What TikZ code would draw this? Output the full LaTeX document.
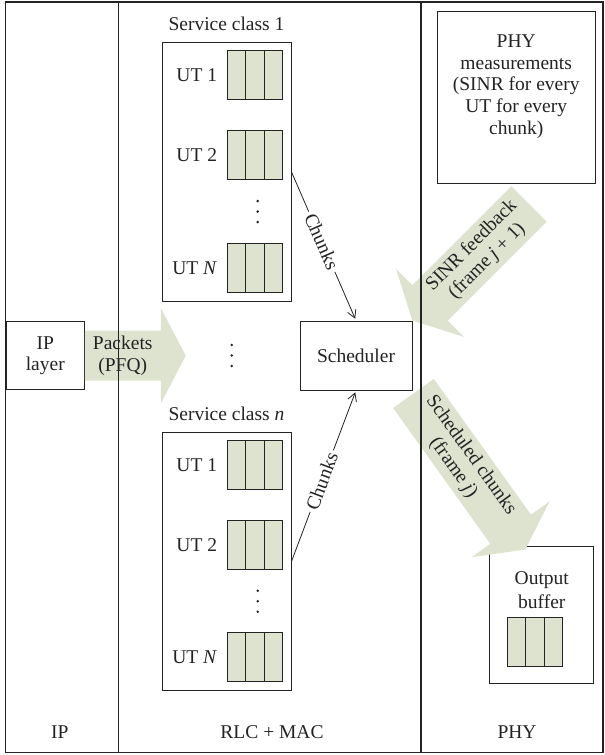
\documentclass[tikz,border=0pt]{standalone}
\usepackage{fontspec}
\setmainfont{Liberation Serif}
\usetikzlibrary{positioning,calc,arrows.meta}
\definecolor{pale}{RGB}{222,227,208}
\definecolor{ink}{RGB}{35,35,35}

\begin{document}
\begin{tikzpicture}[
  x=1pt, y=1pt,
  every node/.style={font=\fontsize{19.5}{21.7}\selectfont, inner sep=0pt, text=ink},
  box/.style={draw=ink, line width=0.9pt, align=center},
  queue/.style={draw=ink, line width=0.9pt, fill=pale, minimum width=55pt, minimum height=49pt},
  chunks/.style={draw=ink, line width=0.8pt, -{Straight Barb[length=8pt,width=9pt]}, shorten >=2pt},
  fattext/.style={},
  pics/fatarrow/.style 2 args={code={
    \fill[pale] (0,-25) -- (#1,-25) -- (#1,-48) -- (#1+25,0) -- (#1,48) -- (#1,25) -- (0,25) -- cycle;
    \node[transform shape, align=center, fattext] at (#1/2,0) {#2};
  }},
]
\useasboundingbox (0,0) rectangle (605,755);

\foreach \cls/\ypos/\num in {1/583.15/1, 2/193.5/\textit{n}} {
  \node[box, minimum width=129pt, minimum height=258.3pt] (sc\cls) at (226.5,\ypos) {};
  \node[above=11.5pt of sc\cls] (title\cls) {Service class \num};
  \node[queue, anchor=north east] (q\cls1) at ([shift={(-8.3,-8)}]sc\cls.north east) {};
  \node[queue, below=30.3pt of q\cls1] (q\cls2) {};
  \node[queue, anchor=south east] (q\cls3) at ([shift={(-8.3,8.7)}]sc\cls.south east) {};
  \node[left=10pt of q\cls1] (ut\cls1) {UT 1};
  \node[left=10pt of q\cls2] (ut\cls2) {UT 2};
  \node[left=10pt of q\cls3] (ut\cls3) {UT \textit{N}};
  \coordinate (dots\cls) at ($(q\cls2.south)!0.5!(q\cls3.north)+(2.5,0)$);
}

\node[box, minimum width=112pt, minimum height=69pt] (sched) at (356,399.5) {Scheduler};
\node[box, minimum width=78pt, minimum height=68pt] (iplayer) at (45.3,399.3) {IP\\layer};
\node[box, minimum width=157.7pt, minimum height=172.3pt] (phy) at (516.2,657.85) {};
\node[align=center] (phytext) at ([yshift=10.6pt]phy.center) {PHY\\measurements\\(SINR for every\\UT for every\\chunk)};
\node[box, minimum width=104pt, minimum height=137.3pt] (outbuf) at (541,140.35) {};
\node[align=center] (outtext) at (541.8,164.65) {Output\\[2.5pt]buffer};
\node[queue] (qbuf) at (535,113.35) {};
\coordinate (middots) at (231.7,399.5);

\foreach \q in {q11,q12,q13,q21,q22,q23,qbuf}
  \foreach \f in {1,2}
    \draw[ink, line width=0.9pt] ($(\q.north west)!\f/3!(\q.north east)$) -- ($(\q.south west)!\f/3!(\q.south east)$);

\foreach \p in {dots1,dots2,middots}
  \foreach \d in {-10.5,0,10.5}
    \fill[ink] ([yshift=\d pt]\p) circle (1.4pt);

\draw[chunks] (sc1.east) -- node[sloped, pos=0.47, fill=white, inner sep=3pt] {Chunks} (sched.north);
\draw[chunks] (sc2.east) -- node[sloped, pos=0.47, fill=white, inner sep=3pt] {Chunks} (sched.south);

\coordinate (pkttail) at (iplayer.east);
\coordinate (sinrtail) at ([shift={(12.8,-20.2)}]phy.south);
\coordinate (schedtail) at ([shift={(1,-3)}]sched.south east);
\pic at (pkttail) {fatarrow={76}{Packets\\(PFQ)}};
\pic[rotate=225, fattext/.style={rotate=180}] at (sinrtail) {fatarrow={140}{SINR feedback\\(frame \textit{j} + 1)}};
\pic[rotate=-54.4] at (schedtail) {fatarrow={167}{Scheduled chunks\\(frame \textit{j})}};

\draw[ink, line width=1.1pt] (5.5,2.5) rectangle (603,753) (118.7,2.5) -- (118.7,753) (421,2.5) -- (421,753);
\node (iplab) at (59.8,23.3) {IP};
\node (maclab) at (272,23.3) {RLC + MAC};
\node (phylab) at (517,23.3) {PHY};
\end{tikzpicture}
\end{document}
